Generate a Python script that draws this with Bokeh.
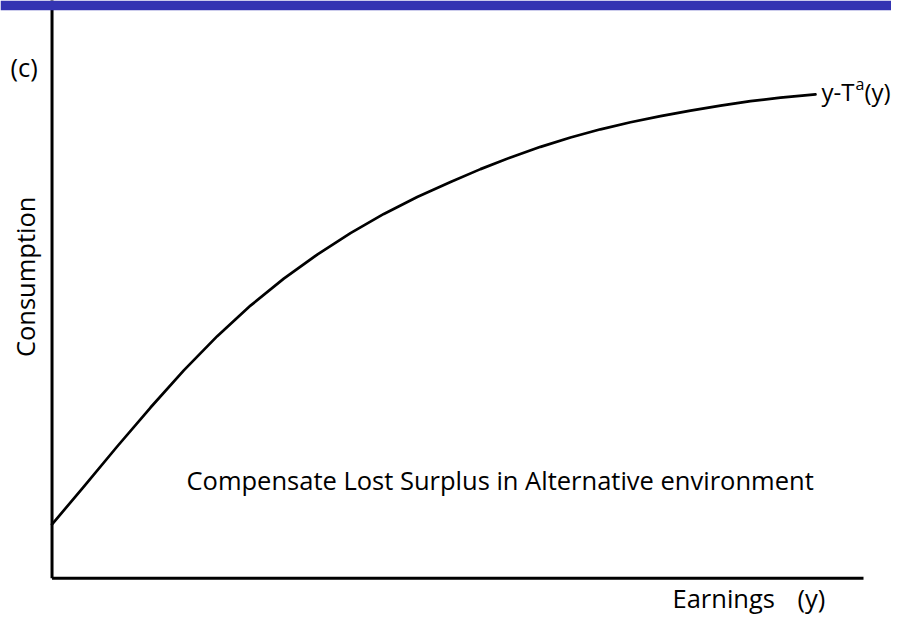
from bokeh.plotting import figure
from bokeh.models import Range1d, BoxAnnotation, Label
from bokeh.embed import file_html
from bokeh.resources import INLINE

# ---- data (axes run 0..100 in both directions) ----
earnings = [0, 3.92, 8.03, 12.14, 16.24, 20.36, 24.46, 28.56, 32.68, 36.78,
            40.89, 45.00, 49.11, 52.80, 56.50, 60.20, 63.89, 67.59, 71.29,
            74.98, 78.68, 82.38, 86.07, 89.77, 93.10, 94.08]
consumption = [9.45, 16.05, 23.08, 29.91, 36.41, 42.41, 47.76, 52.48, 56.70,
               60.46, 63.81, 66.79, 69.40, 71.66, 73.71, 75.56, 77.20, 78.63,
               79.86, 80.94, 81.91, 82.79, 83.56, 84.17, 84.63, 84.75]

axis_x = [0, 100]       # horizontal axis extent (earnings)
axis_y = [0, 102]       # vertical axis extent (consumption)

curve_label = ["y-T", "a", "(y)"]
y_title = "Consumption"
y_unit = "(c)"
x_title = "Earnings"
x_unit = "(y)"
note = "Compensate Lost Surplus in Alternative environment"

FONT = "Open Sans"
FS = "25.5px"

p = figure(width=891, height=614, output_backend="svg", toolbar_location=None,
           x_range=Range1d(-6.35, 103.45), y_range=Range1d(-6.34, 101.19),
           min_border=0, min_border_left=0, min_border_right=0,
           min_border_top=0, min_border_bottom=0)
p.xaxis.visible = False
p.yaxis.visible = False
p.xgrid.visible = False
p.ygrid.visible = False
p.outline_line_color = None
p.background_fill_color = "white"
p.border_fill_color = "white"

# blue title bar at the top
p.add_layout(BoxAnnotation(bottom=99.5, fill_color="#3434B2", fill_alpha=1.0,
                           line_alpha=0))

# axes
p.line(axis_x, [0, 0], line_color="black", line_width=3)
p.line([0, 0], axis_y, line_color="black", line_width=3)

# consumption curve
p.line(earnings, consumption, line_color="black", line_width=2.7,
       line_join="round", line_cap="round")

def lab(text, x, y, align="left", baseline="alphabetic", angle=0.0, size=FS):
    p.add_layout(Label(x=x, y=y, text=text, text_font=FONT, text_font_size=size,
                       text_color="black", text_align=align,
                       text_baseline=baseline, angle=angle))

lab(y_unit, -5.11, 89.57, baseline="middle")
lab(y_title, -3.27, 52.8, align="center", baseline="middle", angle=1.5708)
lab(curve_label[0], 94.82, 85.2, size="24px")
lab(curve_label[1], 99.01, 86.6, size="16px")
lab(curve_label[2], 100.12, 85.2, size="24px")
lab(note, 16.57, 17.26)
lab(x_title, 76.46, -3.5)
lab(x_unit, 91.87, -3.5)

open("out.html", "w").write(file_html(p, INLINE))
